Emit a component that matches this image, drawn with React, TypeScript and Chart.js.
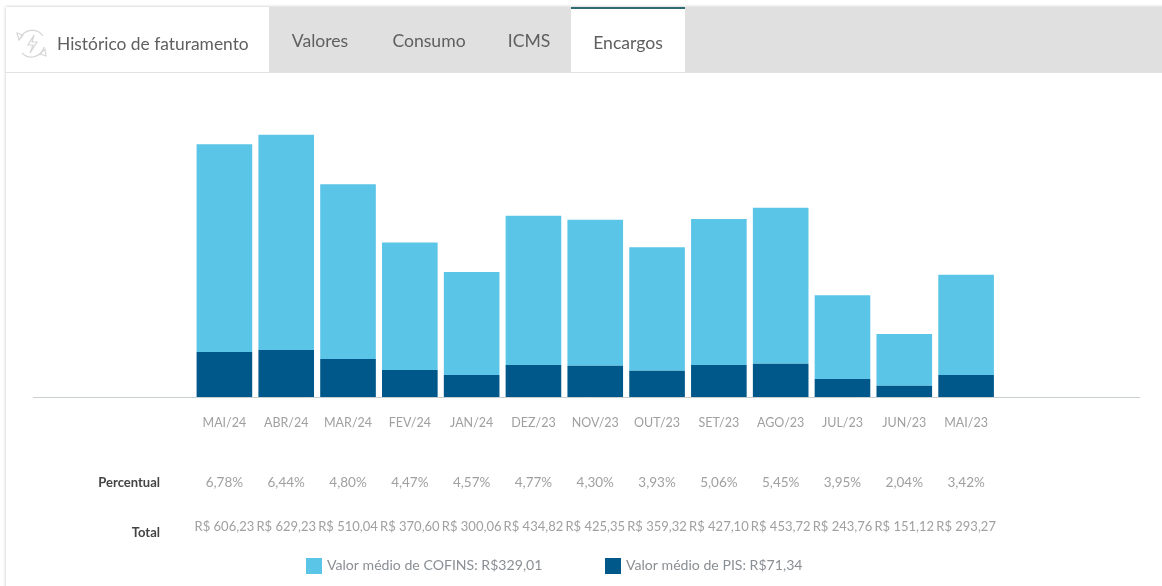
import React, { useEffect, useRef } from "react";
import { Chart, registerables } from "chart.js";

Chart.register(...registerables);

const months = ["MAI/24","ABR/24","MAR/24","FEV/24","JAN/24","DEZ/23","NOV/23","OUT/23","SET/23","AGO/23","JUL/23","JUN/23","MAI/23"];
const percentuais = ["6,78%","6,44%","4,80%","4,47%","4,57%","4,77%","4,30%","3,93%","5,06%","5,45%","3,95%","2,04%","3,42%"];
const totais = ["R$ 606,23","R$ 629,23","R$ 510,04","R$ 370,60","R$ 300,06","R$ 434,82","R$ 425,35","R$ 359,32","R$ 427,10","R$ 453,72","R$ 243,76","R$ 151,12","R$ 293,27"];
const pis = [108, 113, 91, 65, 53, 77, 75, 63, 77, 80, 43, 27, 53];
const cofins = [498.23, 516.23, 419.04, 305.6, 247.06, 357.82, 350.35, 296.32, 350.1, 373.72, 200.76, 124.12, 240.27];
const legendCofins = "Valor médio de COFINS: R$329,01";
const legendPis = "Valor médio de PIS: R$71,34";
const tabs = ["Valores", "Consumo", "ICMS"];

const FONT = "Lato, 'Open Sans', sans-serif";

const rowsPlugin = {
  id: "rows",
  afterDraw(chart: any) {
    const { ctx, scales } = chart;
    const x = scales.x;
    ctx.save();
    // base line
    ctx.strokeStyle = "#c9ced1";
    ctx.lineWidth = 1;
    ctx.beginPath();
    ctx.moveTo(33, 397.5);
    ctx.lineTo(1140, 397.5);
    ctx.stroke();
    ctx.textBaseline = "middle";
    ctx.textAlign = "center";
    ctx.font = `13.5px ${FONT}`;
    ctx.fillStyle = "#a0a0a0";
    percentuais.forEach((t, i) => ctx.fillText(t, x.getPixelForValue(i), 483));
    ctx.font = `13px ${FONT}`;
    totais.forEach((t, i) => ctx.fillText(t, x.getPixelForValue(i), 527));
    ctx.textAlign = "right";
    ctx.fillStyle = "#444";
    ctx.font = `bold 13px ${FONT}`;
    ctx.fillText("Percentual", 160, 483);
    ctx.fillText("Total", 160, 533);
    // legend
    ctx.textAlign = "left";
    ctx.font = `14.1px ${FONT}`;
    const ds = chart.data.datasets;
    const items = [
      { d: ds[1], x: 306 },
      { d: ds[0], x: 605 },
    ];
    items.forEach(({ d, x: lx }) => {
      ctx.fillStyle = d.backgroundColor;
      ctx.fillRect(lx, 558, 16, 16);
      ctx.fillStyle = "#8a8f94";
      ctx.fillText(d.label, lx + 21, 565);
    });
    ctx.restore();
  },
};

export default function App() {
  const ref = useRef<HTMLCanvasElement>(null);
  useEffect(() => {
    const chart = new Chart(ref.current!, {
      type: "bar",
      data: {
        labels: months,
        datasets: [
          { label: legendPis, data: pis, backgroundColor: "#00578a", barPercentage: 0.9, categoryPercentage: 1 },
          { label: legendCofins, data: cofins, backgroundColor: "#5bc5e8", barPercentage: 0.9, categoryPercentage: 1 },
        ],
      },
      options: {
        responsive: false,
        animation: false,
        layout: { padding: { left: 193.5, right: 165, top: 126, bottom: 0 } },
        plugins: { legend: { display: false }, tooltip: { enabled: false } },
        scales: {
          x: {
            stacked: true,
            grid: { display: false },
            border: { display: false },
            afterFit: (s: any) => { s.height = 189; },
            ticks: { color: "#a0a0a0", font: { family: FONT, size: 12.5 }, padding: 10, maxRotation: 0, autoSkip: false },
          },
          y: { stacked: true, display: false, min: 0, max: 650 },
        },
      },
      plugins: [rowsPlugin],
    } as any);
    return () => chart.destroy();
  }, []);

  const tabStyle: React.CSSProperties = { position: "absolute", top: 30, transform: "translateX(-50%)", fontSize: 17.6, color: "#5f5f5f", whiteSpace: "nowrap" };
  return (
    <div style={{ position: "fixed", left: 0, top: 0, width: 1162, height: 586, background: "#fff", fontFamily: FONT, overflow: "hidden" }}>
      <div style={{ position: "absolute", left: 6, top: 7, width: 1170, height: 600, background: "#fff", boxShadow: "0 0 3px rgba(0,0,0,0.25)" }} />
      <canvas ref={ref} width={1162} height={586} style={{ position: "absolute", left: 0, top: 0, display: "block" }} />
      <div style={{ position: "absolute", left: 6, top: 72, width: 1156, height: 1, background: "#e2e2e2" }} />
      <div style={{ position: "absolute", left: 269, top: 7, width: 302, height: 65, background: "#e0e0e0" }} />
      <div style={{ position: "absolute", left: 685, top: 7, width: 477, height: 65, background: "#e0e0e0" }} />
      <div style={{ position: "absolute", left: 571, top: 7, width: 114, height: 2, background: "#2f6b72" }} />
      <svg width="36" height="36" viewBox="0 0 36 36" style={{ position: "absolute", left: 14, top: 27 }} fill="none" stroke="#d6d6d6" strokeWidth="1.2">
        <path d="M6 12 A13 13 0 0 1 29 9" />
        <path d="M30 20 A13 13 0 0 1 8 26" />
        <path d="M3 6 L9 8 L5 13 Z" />
        <path d="M32 29 L26 27 L31 22 Z" />
        <path d="M20 8 L14 18 L19 18 L16 26 L23 15 L18 15 Z" />
      </svg>
      <div style={{ position: "absolute", left: 57, top: 33, fontSize: 17.4, color: "#5f5f5f", whiteSpace: "nowrap" }}>Histórico de faturamento</div>
      <div style={{ ...tabStyle, left: 320 }}>{tabs[0]}</div>
      <div style={{ ...tabStyle, left: 429 }}>{tabs[1]}</div>
      <div style={{ ...tabStyle, left: 529 }}>{tabs[2]}</div>
      <div style={{ ...tabStyle, left: 628, top: 32 }}>Encargos</div>
    </div>
  );
}
